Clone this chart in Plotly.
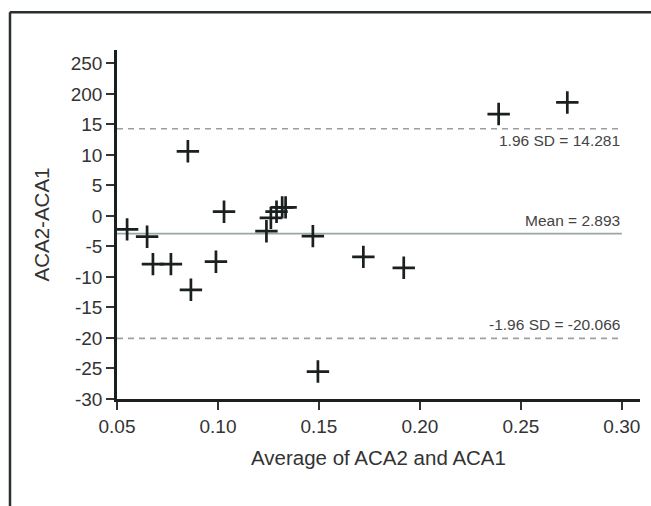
import plotly.graph_objects as go

# Data (Bland-Altman plot)
avg_values = [0.055, 0.0649, 0.0678, 0.0767, 0.0851, 0.0866, 0.099, 0.103,
              0.124, 0.1262, 0.1290, 0.1318, 0.1335, 0.147, 0.1495, 0.172,
              0.192, 0.239, 0.273]
diff_values = [-2.2, -3.4, -7.9, -7.9, 10.6, -12.1, -7.5, 0.7,
               -2.5, -0.3, 0.7, 1.4, 1.4, -3.3, -25.5, -6.7,
               -8.5, 16.7, 18.6]

mean_diff = -2.893
upper_loa = 14.281
lower_loa = -20.066
line_x = [0.05, 0.30]

mean_label = "Mean = 2.893"
upper_label = "1.96 SD = 14.281"
lower_label = "-1.96 SD = -20.066"

x_ticks = [0.05, 0.10, 0.15, 0.20, 0.25, 0.30]
x_ticktext = ["0.05", "0.10", "0.15", "0.20", "0.25", "0.30"]
y_ticks = [25, 20, 15, 10, 5, 0, -5, -10, -15, -20, -25, -30]
y_ticktext = ["250", "200", "15", "10", "5", "0", "-5", "-10", "-15", "-20", "-25", "-30"]

FONT = "Liberation Sans, Arial, Helvetica, sans-serif"

fig = go.Figure()

# reference lines
fig.add_trace(go.Scatter(x=line_x, y=[upper_loa, upper_loa], mode="lines",
                         line=dict(color="#9a9e9e", width=1.6, dash="6px,5px"),
                         hoverinfo="skip", showlegend=False))
fig.add_trace(go.Scatter(x=line_x, y=[lower_loa, lower_loa], mode="lines",
                         line=dict(color="#9aa2a2", width=1.6, dash="6px,5px"),
                         hoverinfo="skip", showlegend=False))
fig.add_trace(go.Scatter(x=line_x, y=[mean_diff, mean_diff], mode="lines",
                         line=dict(color="#98a8a4", width=1.6),
                         hoverinfo="skip", showlegend=False))

# points
fig.add_trace(go.Scatter(x=avg_values, y=diff_values, mode="markers",
                         marker=dict(symbol="cross-thin", size=16,
                                     line=dict(color="#1a1f1f", width=2.7)),
                         showlegend=False))

ann_font = dict(family=FONT, size=15.5, color="#444")
fig.add_annotation(x=line_x[1], y=upper_loa, text=upper_label, showarrow=False,
                   xanchor="right", yanchor="top", yshift=-1, font=ann_font)
fig.add_annotation(x=line_x[1], y=mean_diff, text=mean_label, showarrow=False,
                   xanchor="right", yanchor="bottom", yshift=3, font=ann_font)
fig.add_annotation(x=line_x[1], y=lower_loa, text=lower_label, showarrow=False,
                   xanchor="right", yanchor="bottom", yshift=3, font=ann_font)

# outer frame (top and left edges)
fig.add_shape(type="line", xref="paper", yref="paper", x0=-0.205, x1=1.03,
              y0=1.108, y1=1.108, line=dict(color="#2a2f2f", width=2.5))
fig.add_shape(type="line", xref="paper", yref="paper", x0=-0.2046, x1=-0.2046,
              y0=1.108, y1=-0.31, line=dict(color="#2a2f2f", width=2.5))

fig.update_layout(
    width=651, height=506,
    margin=dict(l=117, r=11, t=50, b=107, autoexpand=False),
    paper_bgcolor="white", plot_bgcolor="white",
    font=dict(family=FONT, color="#333"),
    xaxis=dict(range=[0.05, 0.309], tickvals=x_ticks, ticktext=x_ticktext,
               automargin=False,
               showgrid=False, zeroline=False, showline=True, linecolor="#1a1f1f",
               linewidth=2.5, ticks="outside", ticklen=8, tickwidth=1.5,
               tickcolor="#333", tickfont=dict(size=19, color="#333"),
               title=dict(text="Average of ACA2 and ACA1",
                          font=dict(size=20.5, color="#333"), standoff=16)),
    yaxis=dict(range=[-30, 27.2], tickvals=y_ticks, ticktext=y_ticktext,
               automargin=False,
               showgrid=False, zeroline=False, showline=True, linecolor="#1a1f1f",
               linewidth=2.5, ticks="outside", ticklen=8, tickwidth=1.5,
               tickcolor="#333", tickfont=dict(size=19, color="#333"),
               title=dict(text="ACA2-ACA1", font=dict(size=20.5, color="#333"),
                          standoff=16)),
)

fig.write_html("out.html", config={"displayModeBar": False})

# remove the default page margin so the figure sits at the window origin
with open("out.html", "r", encoding="utf-8") as f:
    html = f.read()
html = html.replace("<head>", "<head><style>html,body{margin:0;padding:0;overflow:hidden;}</style>", 1)
with open("out.html", "w", encoding="utf-8") as f:
    f.write(html)
